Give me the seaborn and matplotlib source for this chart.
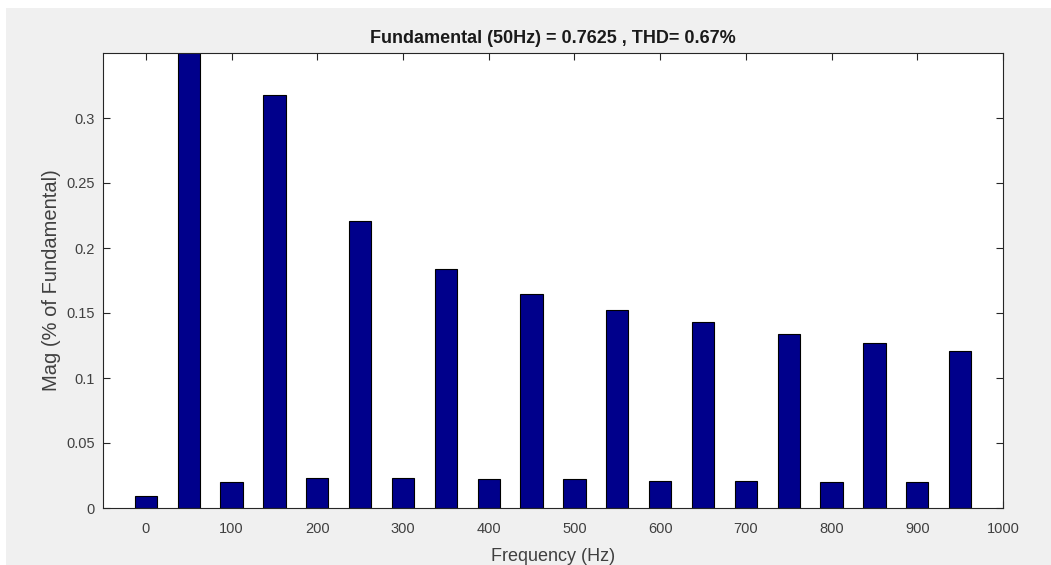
import matplotlib.pyplot as plt
import seaborn as sns
import pandas as pd
from matplotlib.patches import Rectangle

# Harmonic spectrum (bins every 50 Hz); the 50 Hz bar is the fundamental (clipped)
freqs = [0, 50, 100, 150, 200, 250, 300, 350, 400, 450,
         500, 550, 600, 650, 700, 750, 800, 850, 900, 950]
mags = [0.009, 100.0, 0.020, 0.318, 0.023, 0.221, 0.023, 0.184, 0.022, 0.165,
        0.022, 0.152, 0.021, 0.143, 0.021, 0.134, 0.020, 0.127, 0.020, 0.121]
yticks = [0, 0.05, 0.1, 0.15, 0.2, 0.25, 0.3]
ytick_labels = ['0', '0.05', '0.1', '0.15', '0.2', '0.25', '0.3']
xticks = [0, 100, 200, 300, 400, 500, 600, 700, 800, 900, 1000]

df = pd.DataFrame({"Frequency": freqs, "Mag": mags})

sns.set_theme(style="ticks")
plt.rcParams['font.family'] = ['Liberation Sans', 'DejaVu Sans']

fig = plt.figure(figsize=(10.51, 5.65), dpi=100, facecolor='white')
# grey MATLAB figure background, with a thin white strip top/left
fig.patches.append(Rectangle((6 / 1051, 0), 1, (565 - 8) / 565,
                             transform=fig.transFigure, facecolor='#f0f0f0',
                             edgecolor='none', zorder=-10))

ax = fig.add_axes([103 / 1051, 57 / 565, 900 / 1051, 455 / 565])
sns.barplot(data=df, x="Frequency", y="Mag", native_scale=True, width=0.52,
            color='#00008b', edgecolor='black', linewidth=0.8, saturation=1,
            ax=ax)

ax.set_xlim(-50, 1000)
ax.set_ylim(0, 0.35)
ax.set_xticks(xticks)
ax.set_xticklabels([str(t) for t in xticks])
ax.set_yticks(yticks)
ax.set_yticklabels(ytick_labels)

ax.tick_params(direction='in', top=True, right=True, length=5, width=0.8,
               colors='#262626', labelcolor='#404040', labelsize=10.5)
ax.tick_params(axis='x', pad=10)
ax.tick_params(axis='y', pad=6)
for s in ax.spines.values():
    s.set_color('#262626')
    s.set_linewidth(0.8)
    s.set_visible(True)

ax.set_title("Fundamental (50Hz) = 0.7625 , THD= 0.67%", fontsize=13,
             fontweight='bold', color='#1a1a1a', pad=7)
ax.set_xlabel("Frequency (Hz)", fontsize=13, color='#404040')
ax.set_ylabel("Mag (% of Fundamental)", fontsize=14.5, color='#404040')
ax.xaxis.set_label_coords(0.5, -0.087)
ax.yaxis.set_label_coords(-0.047, 0.5)

fig.savefig("out.png", dpi=100, facecolor=fig.get_facecolor())
